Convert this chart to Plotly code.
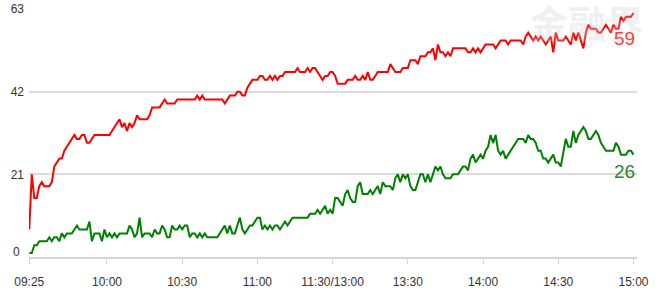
import plotly.graph_objects as go

# time categories: 09:25 call auction, then 09:30-11:30, 13:01-15:00
times = ["09:25"]
for h, m0, m1 in [(9, 30, 59), (10, 0, 59), (11, 0, 30), (13, 1, 59), (14, 0, 59), (15, 0, 0)]:
    for m in range(m0, m1 + 1):
        times.append(f"{h:02d}:{m:02d}")

red_values = [
    7, 21, 15, 15, 18, 19, 18, 18, 18, 19, 23, 24, 25, 25, 27, 28, 29, 30, 31, 30,
    30, 31, 31, 29, 29, 30, 31, 31, 31, 31, 31, 31, 31, 32, 33, 34, 35, 33, 34, 32,
    34, 33, 34, 36, 35, 35, 35, 35, 36, 38, 38, 38, 38, 39, 40, 39, 39, 39, 39, 40,
    40, 40, 40, 40, 40, 40, 40, 41, 40, 41, 40, 40, 40, 40, 40, 40, 40, 40, 39, 40,
    41, 41, 41, 42, 42, 41, 41, 43, 44, 45, 45, 45, 46, 46, 45, 45, 46, 45, 46, 45,
    46, 46, 47, 47, 47, 47, 47, 48, 47, 47, 47, 48, 47, 48, 48, 47, 46, 45, 46, 46,
    47, 47, 46, 44, 44, 44, 44, 45, 45, 45, 46, 45, 45, 46, 45, 47, 45, 45, 46, 47,
    47, 47, 47, 47, 49, 48, 47, 47, 47, 48, 48, 48, 50, 50, 50, 49, 51, 51, 51, 52,
    52, 53, 50, 54, 52, 52, 51, 52, 51, 53, 53, 53, 53, 53, 53, 52, 52, 53, 52, 53,
    52, 53, 54, 54, 54, 54, 53, 54, 55, 55, 55, 54, 55, 55, 55, 55, 55, 54, 56, 57,
    56, 55, 56, 55, 56, 55, 54, 55, 56, 52, 57, 55, 55, 55, 56, 55, 54, 57, 55, 57,
    55, 53, 57, 59, 58, 58, 58, 57, 57, 58, 59, 58, 57, 59, 58, 58, 61, 60, 61, 61,
    61, 62,
]

green_values = [
    1, 1, 3, 3, 4, 4, 4, 4, 5, 4, 5, 5, 4, 6, 5, 6, 6, 6, 7, 8,
    7, 7, 7, 7, 9, 4, 6, 6, 6, 4, 7, 5, 6, 5, 6, 5, 6, 6, 6, 6,
    8, 7, 5, 6, 10, 5, 6, 6, 6, 5, 7, 6, 6, 8, 7, 5, 5, 8, 7, 7,
    8, 7, 8, 8, 5, 6, 6, 5, 6, 5, 6, 5, 5, 5, 5, 5, 6, 7, 8, 6,
    8, 6, 6, 8, 10, 7, 6, 7, 8, 8, 9, 10, 10, 7, 8, 7, 8, 7, 8, 8,
    7, 8, 9, 8, 9, 10, 10, 10, 10, 10, 10, 10, 11, 11, 11, 12, 11, 12, 13, 11,
    12, 11, 15, 15, 14, 13, 16, 17, 15, 14, 14, 18, 19, 16, 16, 16, 17, 16, 17, 18,
    16, 19, 18, 18, 18, 17, 20, 21, 19, 21, 20, 21, 18, 17, 17, 19, 21, 21, 19, 21,
    19, 21, 23, 22, 23, 21, 20, 20, 20, 21, 21, 21, 22, 23, 23, 22, 25, 26, 24, 25,
    26, 25, 27, 28, 31, 29, 31, 27, 26, 27, 25, 26, 27, 28, 29, 30, 30, 30, 29, 31,
    30, 30, 29, 27, 27, 25, 25, 24, 25, 26, 24, 24, 23, 27, 30, 28, 28, 32, 29, 31,
    32, 33, 32, 30, 30, 31, 32, 31, 29, 28, 27, 27, 27, 27, 29, 28, 26, 26, 26, 27,
    27, 26,
]

end_labels = [59, 26]
y_ticks = [0, 21, 42, 63]
x_tick_vals = ["09:25", "10:00", "10:30", "11:00", "11:30", "13:30", "14:00", "14:30", "15:00"]
x_tick_text = ["09:25", "10:00", "10:30", "11:00", "11:30/13:00", "13:30", "14:00", "14:30", "15:00"]

W, H = 665, 291
ML, MR, MT, MB = 29, 28, 9, 34
PW, PH = W - ML - MR, H - MT - MB


def px_x(px):
    return (px - ML) / PW


def px_y(py):
    return (H - MB - py) / PH


fig = go.Figure()
fig.add_trace(go.Scatter(x=times, y=red_values, mode="lines",
                         line=dict(color="#ff0000", width=2), hoverinfo="skip"))
fig.add_trace(go.Scatter(x=times, y=green_values, mode="lines",
                         line=dict(color="#008000", width=2), hoverinfo="skip"))

font_family = "Liberation Sans, Arial, sans-serif"

annotations = [
    # faint watermark (behind labels)
    dict(x=px_x(528), y=px_y(-8), xref="paper", yref="paper", text="<b>金融界</b>",
         showarrow=False, xanchor="left", yanchor="top",
         font=dict(size=38, color="rgba(205,205,205,0.30)", family="Noto Sans CJK SC")),
    dict(x=px_x(576), y=px_y(22), xref="paper", yref="paper", text="<b>.com</b>",
         showarrow=False, xanchor="left", yanchor="top",
         font=dict(size=11, color="rgba(205,205,205,0.30)", family=font_family)),
    dict(x=times[-1], y=end_labels[0], xref="x", yref="y", text=str(end_labels[0]),
         showarrow=False, xanchor="right", yanchor="middle", xshift=4, yshift=-14,
         font=dict(size=19, color="#ff3c3c", family=font_family)),
    dict(x=times[-1], y=end_labels[1], xref="x", yref="y", text=str(end_labels[1]),
         showarrow=False, xanchor="right", yanchor="middle", xshift=4, yshift=-17,
         font=dict(size=19, color="#2e862e", family=font_family)),
    dict(x=0, y=0, xref="paper", yref="y", text="0", showarrow=False,
         xanchor="right", yanchor="middle", xshift=-7, yshift=5,
         font=dict(size=12, color="#333333", family=font_family)),
]

fig.update_layout(
    width=W, height=H,
    margin=dict(l=ML, r=MR, t=MT, b=MB, autoexpand=False),
    paper_bgcolor="white", plot_bgcolor="white",
    showlegend=False,
    annotations=annotations,
    font=dict(family=font_family, size=12, color="#333333"),
)

fig.update_xaxes(
    type="category",
    range=[-0.1, 242.4],
    tickmode="array", tickvals=x_tick_vals, ticktext=x_tick_text,
    showgrid=False, zeroline=False, automargin=False,
    showline=True, linecolor="#d6d6d6", linewidth=2,
    ticks="outside", ticklen=5, tickcolor="#d6d6d6", tickwidth=1,
    ticklabelstandoff=8,
    tickfont=dict(size=12, color="#333333"),
)
fig.update_yaxes(
    range=[0, 63], automargin=False,
    tickmode="array", tickvals=y_ticks, ticktext=["", "21", "42", "63"],
    showgrid=True, gridcolor="#dcdcdc", gridwidth=1.5,
    zeroline=False, showline=False, ticks="",
    ticklabelstandoff=4,
    tickfont=dict(size=12, color="#333333"),
)

fig.write_html("out.html")
